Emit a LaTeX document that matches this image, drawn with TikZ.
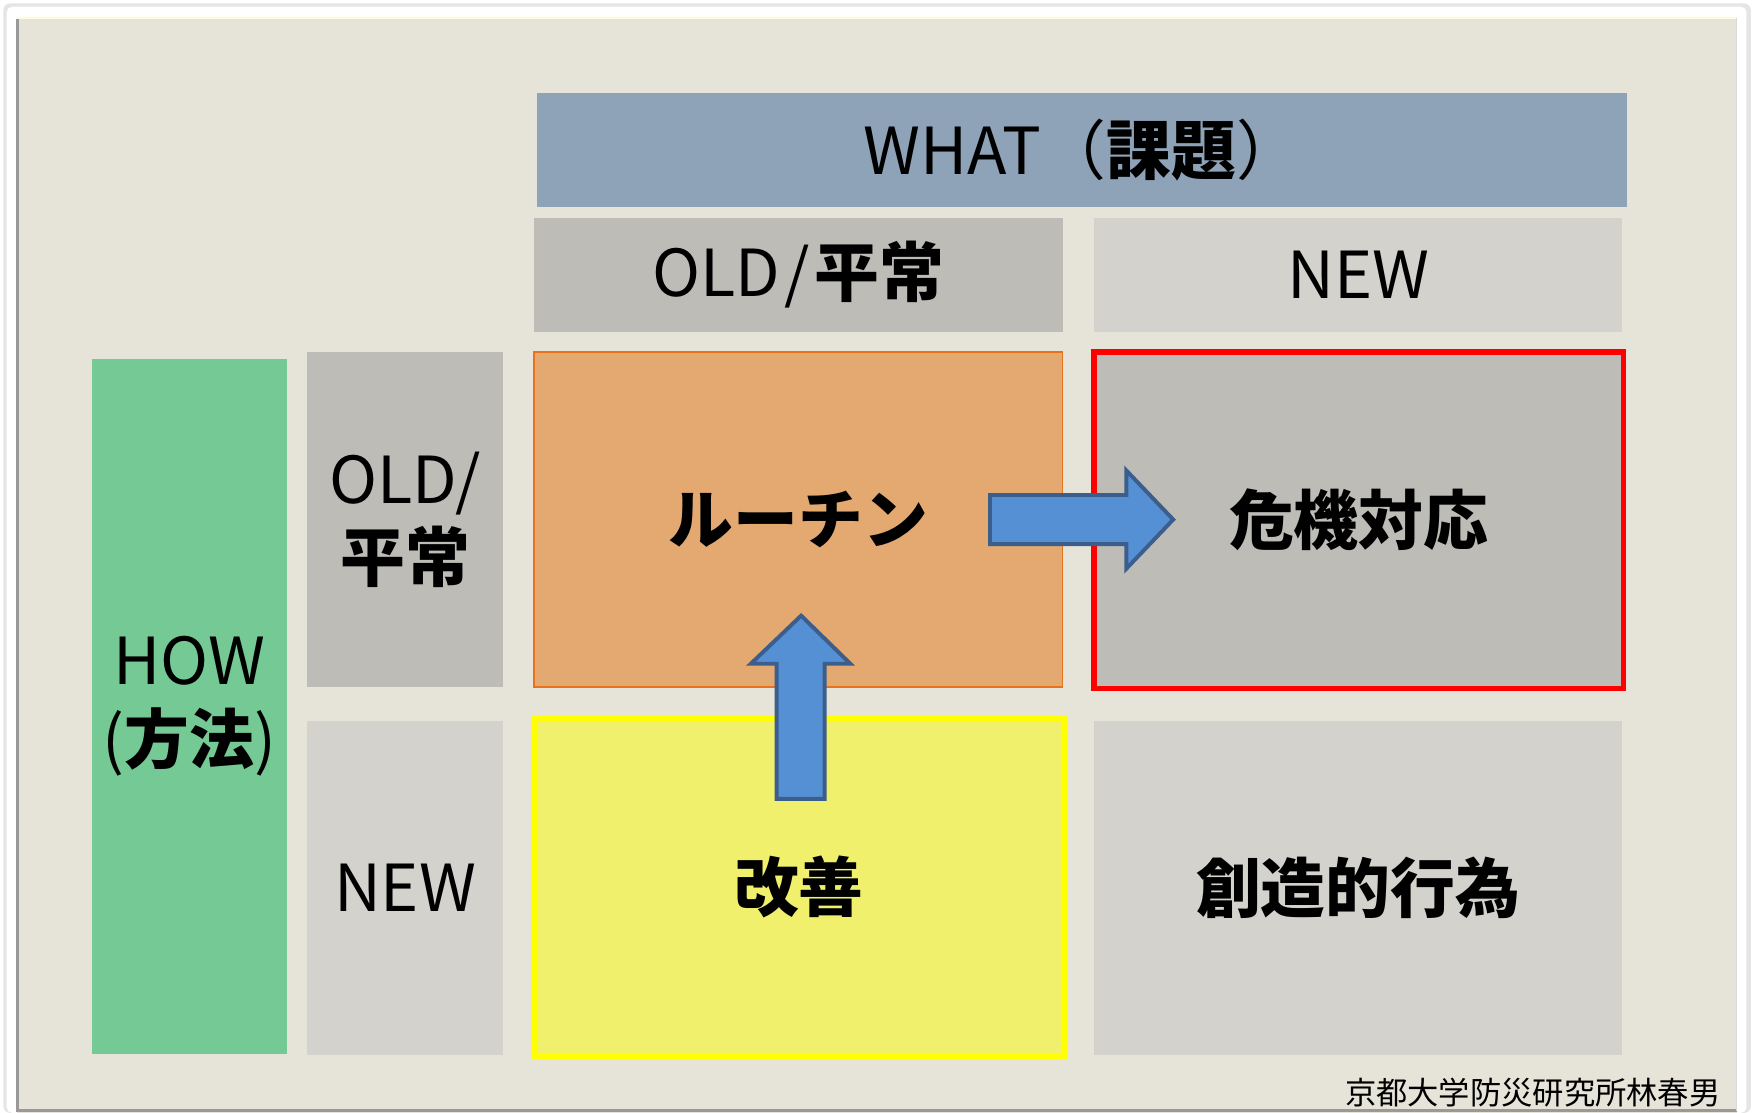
\documentclass[tikz,border=0pt]{standalone}
\usepackage{fontspec}
\setmainfont{Noto Sans CJK JP}[BoldFont={Noto Sans CJK JP Black}]
\definecolor{panel}{HTML}{E6E4D9}
\definecolor{whatc}{HTML}{8FA3B8}
\definecolor{graydk}{HTML}{BDBCB7}
\definecolor{graylt}{HTML}{D3D2CC}
\definecolor{greenc}{HTML}{74C994}
\definecolor{orangef}{HTML}{E4A871}
\definecolor{oranged}{HTML}{E8731A}
\definecolor{yellowf}{HTML}{F0F06C}
\definecolor{yellowd}{HTML}{FFFF00}
\definecolor{redd}{HTML}{FF0000}
\definecolor{arrowf}{HTML}{5590D4}
\definecolor{arrowd}{HTML}{3B5E8C}
\tikzset{
  cell/.style={rectangle, inner sep=0pt, align=center, font=\fontsize{58}{70}\selectfont},
  blockarrow/.style={fill=arrowf, draw=arrowd, line width=3.5pt, line join=miter},
}
\begin{document}
\begin{tikzpicture}[x=1pt,y=-1pt]
\useasboundingbox (0,0) rectangle (1568,996);
\fill[white] (0,0) rectangle (1568,996);
% card and panel
\fill[black!10, rounded corners=6pt] (3,3) rectangle (1567,996);
\fill[white, rounded corners=5pt] (6,6) rectangle (1563,996);
\fill[panel] (15,15) rectangle (1555,996);
\draw[black!40, line width=2.5pt] (16,17) -- (16,994) -- (1555,994);
\draw[white!85!yellow, line width=2pt] (15,16) -- (1555,16);
\draw[black!15, line width=1.5pt] (1554,16) -- (1554,994);
% header
\node[cell, fill=whatc, minimum width=975, minimum height=102] (what) at (968.5,134) {WHAT（\textbf{課題}）};
\node[cell, fill=graydk, minimum width=473, minimum height=102] (oldh) at (714.5,246) {OLD\kern4pt/\kern4pt\textbf{平常}};
\node[cell, fill=graylt, minimum width=473, minimum height=102] (newh) at (1215.5,246) {NEW};
% left side
\node[cell, fill=greenc, minimum width=175, minimum height=622] (how) at (169.5,632) {HOW\\(\textbf{方法})};
\node[cell, fill=graydk, minimum width=175, minimum height=300] (oldl) at (362.5,465) {OLD/\\\textbf{平常}};
\node[cell, fill=graylt, minimum width=175, minimum height=299] (newl) at (362.5,794.5) {NEW};
% matrix cells
\node[cell, fill=orangef, draw=oranged, line width=1.5pt, minimum width=473, minimum height=300] (routine) at (714.5,465) {\textbf{ルーチン}};
\node[cell, fill=graydk, draw=redd, line width=5pt, minimum width=474, minimum height=301] (crisis) at (1216,465.5) {\textbf{危機対応}};
\node[cell, fill=yellowf, draw=yellowd, line width=5pt, minimum width=474, minimum height=302] (kaizen) at (715,794) {\textbf{改善}};
\node[cell, fill=graylt, minimum width=473, minimum height=299] (create) at (1215.5,794.5) {\textbf{創造的行為}};
% arrows
\draw[blockarrow] (886,443) -- (1008,443) -- (1008,421) -- (1050,465) -- (1008,509) -- (1008,487) -- (886,487) -- cycle;
\draw[blockarrow] (695,715) -- (695,594) -- (672,594) -- (717,551) -- (761,594) -- (738,594) -- (738,715) -- cycle;
% footer
\node[anchor=east, inner sep=0pt, font=\fontsize{28}{30}\selectfont] (credit) at (1540,978) {京都大学防災研究所林春男};
\end{tikzpicture}
\end{document}
